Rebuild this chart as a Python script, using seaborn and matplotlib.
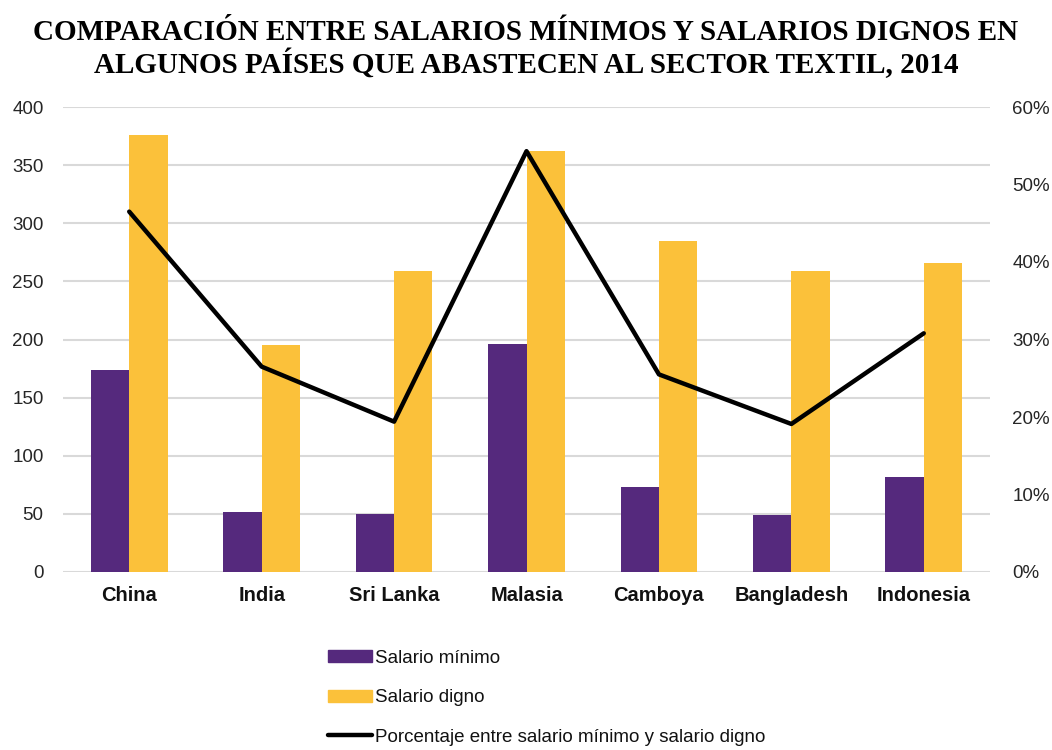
import numpy as np
import pandas as pd
import matplotlib
matplotlib.use("Agg")
import matplotlib.pyplot as plt
import matplotlib.patches as mpatches
from matplotlib.lines import Line2D
from matplotlib.ticker import FuncFormatter
import seaborn as sns

paises = ["China", "India", "Sri Lanka", "Malasia", "Camboya", "Bangladesh", "Indonesia"]
salario_minimo = [174, 52, 50, 196, 73, 49, 82]
salario_digno = [376, 195, 259, 362, 285, 259, 266]
porcentaje = [46.5, 26.5, 19.4, 54.3, 25.5, 19.1, 30.8]

serie_min = "Salario mínimo"
serie_dig = "Salario digno"
serie_pct = "Porcentaje entre salario mínimo y salario digno"

morado = "#55297d"
amarillo = "#fbc13a"

df = pd.DataFrame({
    "pais": paises * 2,
    "serie": [serie_min] * len(paises) + [serie_dig] * len(paises),
    "valor": salario_minimo + salario_digno,
})
df_pct = pd.DataFrame({"pais": paises, "pct": porcentaje})

sns.set_theme(style="white")
plt.rcParams["font.family"] = ["Liberation Sans", "DejaVu Sans"]

fig = plt.figure(figsize=(10.52, 7.5), dpi=100)
ax = fig.add_axes([63 / 1052, 1 - 572 / 750, 927 / 1052, 465 / 750])

# barras: salario minimo y salario digno
sns.barplot(data=df, x="pais", y="valor", hue="serie", ax=ax,
            palette=[morado, amarillo], width=0.58, saturation=1,
            edgecolor="none", linewidth=0, legend=False)

ax.set_ylim(0, 400)
ax.set_yticks(np.arange(0, 401, 50))
ax.yaxis.grid(True, color="#d9d9d9", linewidth=1.5)
ax.set_axisbelow(True)
ax.set_xlabel("")
ax.set_ylabel("")
for s in ax.spines.values():
    s.set_visible(False)
ax.tick_params(axis="y", length=0, pad=14, labelsize=13.5, labelcolor="#262626")
ax.tick_params(axis="x", length=0, pad=10, labelsize=14.5, labelcolor="#111111")
for lbl in ax.get_xticklabels():
    lbl.set_fontweight("bold")

# linea de porcentaje en el eje derecho
ax2 = ax.twinx()
sns.pointplot(data=df_pct, x="pais", y="pct", ax=ax2, color="black",
              marker="", linewidth=3.2, errorbar=None)
ax2.set_ylim(0, 60)
ax2.set_yticks(np.arange(0, 61, 10))
ax2.yaxis.set_major_formatter(FuncFormatter(lambda v, p: f"{v:.0f}%"))
ax2.set_ylabel("")
ax2.grid(False)
for s in ax2.spines.values():
    s.set_visible(False)
ax2.tick_params(axis="y", length=0, pad=16, labelsize=13.5, labelcolor="#262626")
ax.set_xlim(-0.5, len(paises) - 0.5)

fig.text(0.5, 0.975, "COMPARACIÓN ENTRE SALARIOS MÍNIMOS Y SALARIOS DIGNOS EN\n"
         "ALGUNOS PAÍSES QUE ABASTECEN AL SECTOR TEXTIL, 2014",
         ha="center", va="top", fontsize=21, fontweight="bold", color="black",
         family=["Liberation Serif", "DejaVu Serif"], linespacing=1.1)

handles = [
    mpatches.Patch(color=morado, label=serie_min),
    mpatches.Patch(color=amarillo, label=serie_dig),
    Line2D([0], [0], color="black", linewidth=3.2, label=serie_pct),
]
fig.legend(handles=handles, loc="upper left", bbox_to_anchor=(311 / 1052, 1 - 633 / 750),
           frameon=False, fontsize=13.5, handlelength=2.35, handleheight=0.64,
           handletextpad=0.15, labelspacing=1.2, labelcolor="#111111")

fig.savefig("out.png", dpi=100)
